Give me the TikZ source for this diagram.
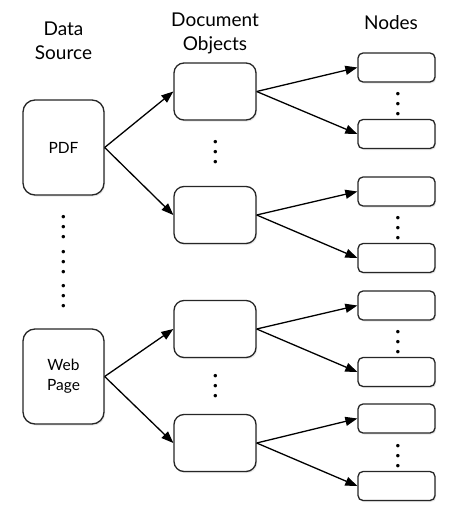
\documentclass[tikz,border=0pt]{standalone}
\usepackage{fontspec}
\setmainfont{Lato}
\usetikzlibrary{arrows.meta,shadows}
\begin{document}
\begin{tikzpicture}[x=1pt,y=-1pt,
  box/.style={draw=black!85,line width=1.3pt,fill=white,inner sep=0pt,align=center,
    drop shadow={opacity=0.18,shadow xshift=1.2pt,shadow yshift=-1.5pt}},
  srcbox/.style={box,rounded corners=12pt,minimum width=81pt,minimum height=95pt,font=\fontsize{15.5}{20}\selectfont},
  docbox/.style={box,rounded corners=10pt,minimum width=82pt,minimum height=57pt},
  leafbox/.style={box,rounded corners=5pt,minimum width=77pt,minimum height=29pt},
  head/.style={align=center,font=\fontsize{19}{23.5}\selectfont},
  arr/.style={line width=1.3pt,-{Triangle[length=12pt,width=9pt]}},
  dot/.style={inner sep=0pt,font=\fontsize{8}{8}\bfseries}
]
\useasboundingbox (0,0) rectangle (472,514);

\node[head] (h1) at (63.5,41) {Data\\Source};
\node[head] (h2) at (215,33.5) {Document\\Objects};
\node[head] (h3) at (391,23) {Nodes};

\node[srcbox] (pdf) at (63.5,147.5) {PDF};
\node[srcbox] (web) at (63.5,376.5) {Web\\Page};

\node[docbox] (d1) at (215,91.5) {};
\node[docbox] (d2) at (215,215) {};
\node[docbox] (d3) at (215,329) {};
\node[docbox] (d4) at (215,443) {};

\node[leafbox] (n1) at (396.5,67.5) {};
\node[leafbox] (n2) at (396.5,134) {};
\node[leafbox] (n3) at (396.5,191.5) {};
\node[leafbox] (n4) at (396.5,258) {};
\node[leafbox] (n5) at (396.5,305.5) {};
\node[leafbox] (n6) at (396.5,372) {};
\node[leafbox] (n7) at (396.5,418.5) {};
\node[leafbox] (n8) at (396.5,486) {};

% vertical ellipses
\foreach \nm/\cx/\cy in {sa/63.5/227.5, sb/63.5/262, sc/63.5/296,
    da/215.5/152.3, db/215.5/386,
    na/398/104, nb/398/228, nc/398/342, nd/398/456}{
  \foreach \k/\dy in {1/-10, 2/0, 3/10}{
    \node[dot] (\nm\k) at (\cx,\cy+\dy) {•};
  }
}

\draw[arr] (pdf.east) -- (d1.west);
\draw[arr] (pdf.east) -- (d2.west);
\draw[arr] (web.east) -- (d3.west);
\draw[arr] (web.east) -- (d4.west);
\draw[arr] (d1.east) -- (n1.west);
\draw[arr] (d1.east) -- (n2.west);
\draw[arr] (d2.east) -- (n3.west);
\draw[arr] (d2.east) -- (n4.west);
\draw[arr] (d3.east) -- (n5.west);
\draw[arr] (d3.east) -- (n6.west);
\draw[arr] (d4.east) -- (n7.west);
\draw[arr] (d4.east) -- (n8.west);
\end{tikzpicture}
\end{document}
